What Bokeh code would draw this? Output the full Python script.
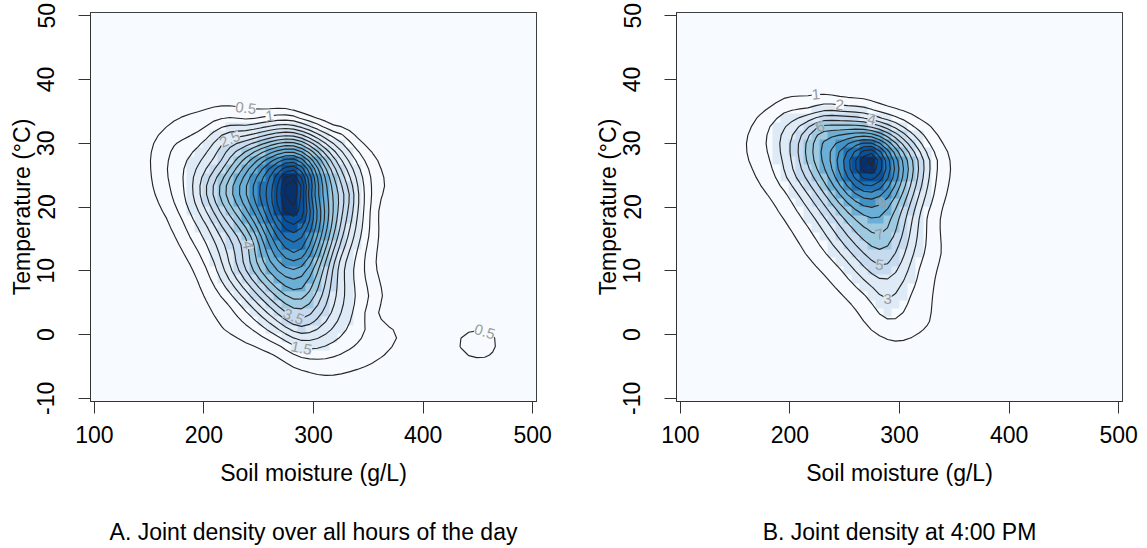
import numpy as np
import contourpy
from bokeh.plotting import figure
from bokeh.layouts import row
from bokeh.models import LinearColorMapper, FixedTicker, Title, ColumnDataSource
from bokeh.palettes import Blues9
from bokeh.embed import file_html
from bokeh.resources import INLINE
from bokeh.core.properties import value

FONT = "Liberation Sans"

# ---------------- data ----------------
X_RANGE = (96.5, 503.5)
Y_RANGE = (-10.5, 50.5)
X_TICKS = [100, 200, 300, 400, 500]
Y_TICKS = [-10, 0, 10, 20, 30, 40, 50]
Y_TICK_TEXT = ["-10", "0", "10", "20", "30", "40", "50"]
X_LABEL = "Soil moisture (g/L)"
Y_LABEL = "Temperature (\u00b0C)"

# ---- Panel A: density (x 1e-4) over all hours of the day ----
A_CAPTION = "A. Joint density over all hours of the day"
# points on the 0.5 contour
A_c05_x = [240, 214, 184.5, 165, 153.5, 152, 155, 165, 178, 191, 207.4, 217, 236.7, 269, 302, 315,
           341, 367, 376.4, 370.5, 357.5, 357, 359, 365.6, 360.8, 341.2, 318.3, 292, 263]
A_c05_y = [35.6, 35.8, 34.5, 32.4, 29.5, 25.4, 22.3, 18.6, 13.9, 9.7, 3.5, 0.9, -1.2, -3.8, -6.2, -6.4,
           -5.4, -2.8, 0.1, 1.1, 3.5, 10.8, 19.1, 23.3, 26.4, 30.6, 32.7, 34.5, 35.4]
# points on the 1 contour
A_c1_x = [258, 240, 197.6, 171.5, 166.5, 171.5, 187.8, 200.8, 223.7, 243.3, 269.4, 298.7, 318.3,
          337.9, 347.7, 351, 351, 352.6, 344.4, 324.9, 292.2]
A_c1_y = [34.2, 33.7, 32.1, 29.5, 25.4, 21.2, 15, 10.8, 4.5, 0.9, -1.7, -3.8, -3.5,
          -1.7, 0.9, 5.6, 16, 23.3, 28, 31.6, 33.7]
# inner points with their density level
A_pt_x = [182, 190, 202, 214, 226, 238.5, 250.7, 262.9, 272, 280,
          341, 333, 328, 313, 297,
          283, 283, 283, 283, 283, 283,
          287, 291, 287, 287, 287, 287,
          210.6, 217, 230, 243, 256, 338, 328, 220.4,
          240, 216, 203, 215, 250,
          438, 450, 462]
A_pt_y = [22.7, 22.7, 22.7, 22.7, 22.7, 22.7, 22.7, 22.7, 22.7, 22.8,
          21.7, 21.7, 21.7, 21.7, 21.7,
          33.5, 32.7, 31.6, 30.6, 28.5, 26.4,
          2.5, -2.2, 1.3, 7, 13, 19,
          10.8, 10.8, 10.8, 10.8, 10.8, 10.8, 10.8, 30.5,
          14.5, 17, 17, 27, 27.5,
          -2, -1.5, -0.5]
A_pt_z = [1.5, 2, 3, 4, 5, 6, 7, 8, 9, 10.3,
          2, 3, 3.5, 5, 7,
          1.5, 2, 3, 4, 6, 8,
          3.5, 1.5, 3, 5, 7, 9,
          1.5, 2, 3, 4, 5, 1.5, 2, 2.5,
          4, 3, 2, 3, 5.5,
          0.62, 0.65, 0.58]
# zero-density points around the mass
A_zero_x = [130, 200, 280, 350, 400, 420, 410, 400, 340, 270, 200, 150, 125, 120,
            422, 478, 448, 448, 490, 470, 430]
A_zero_y = [45, 47, 46, 44, 38, 22, 8, -6, -10, -10, -7, 3, 20, 35,
            -3.5, 1.5, 4, -7, -4, -9, 5]
A_levels = [0.5, 1, 1.5, 2, 2.5, 3, 3.5, 4, 4.5, 5, 5.5, 6, 6.5, 7, 7.5, 8, 8.5, 9, 9.5, 10, 10.5]
A_lab_level = [0.5, 1, 2.5, 4, 3.5, 1.5, 0.5]
A_lab_x = [235, 258, 222, 240, 284, 291, 458]
A_lab_y = [36, 34.5, 30, 14, 2.4, -2.3, 0.5]

# ---- Panel B: density (x 1e-4) at 4:00 PM ----
B_CAPTION = "B. Joint density at 4:00 PM"
B_c1_x = [223, 206.5, 183.4, 167, 160.3, 162, 173.5, 190, 213, 239.5, 266, 282.4, 297.2, 318.6, 327,
          330, 338.4, 340, 346.7, 341.7, 328.5, 305.4, 272.5, 236]
B_c1_y = [37.7, 37.4, 35.8, 33.2, 30.1, 27.5, 23.3, 19.1, 12.9, 7.7, 2.4, -0.2, -1.0, 0.4, 1.7,
          5.6, 12.9, 20.2, 25.4, 29.5, 32.7, 35, 36.8, 37.6]
B_c2_x = [247.7, 219.7, 193.3, 181.8, 178.5, 183.4, 196.6, 219.7, 246, 272.5, 289, 295.5, 308.7,
          318.6, 325.2, 333.5, 328.5, 312, 285.6, 259.3]
B_c2_y = [35.9, 35.5, 34.7, 32.7, 29.5, 26.4, 22.2, 16, 10.3, 5.6, 2.4, 2.4, 5.6,
          10.8, 18.6, 25.4, 29.5, 32.7, 34.7, 35.8]
B_pt_x = [193, 208.6, 221.6, 237, 249, 261, 270.6, 276.5,
          327.8, 316.9, 307.1, 298, 290.4, 282.1,
          285.7, 285.7, 285.8, 283,
          276, 228, 228, 228,
          200, 220, 250]
B_pt_y = [27.4, 27.4, 27.4, 27.4, 27.4, 27.4, 27.4, 27.4,
          27.4, 27.4, 27.4, 27.4, 27.4, 27.4,
          5.6, 10.8, 15.9, 20.5,
          33.6, 35, 33.4, 31.8,
          25, 20, 15]
B_pt_z = [3, 5, 7, 9, 11, 13, 15, 15.6,
          3, 5, 7, 9, 11, 13,
          3, 5, 7, 9,
          4, 3, 5, 7,
          3.5, 3.5, 4.5]
B_zero_x = [130, 140, 220, 300, 370, 375, 365, 320, 260, 205, 160, 125, 420, 420, 300, 230]
B_zero_y = [30, 45, 46, 45, 38, 20, 0, -8, -6, 2, 12, 15, 30, 0, -9, -8]
B_levels = [1, 2, 3, 4, 5, 6, 7, 8, 9, 10, 11, 12, 13, 14, 15, 16]
B_lab_level = [1, 2, 4, 6, 3, 5, 7, 9]
B_lab_x = [223, 248, 276, 231, 285.5, 285.5, 285.5, 283]
B_lab_y = [37.7, 35.8, 33.6, 31.7, 5.4, 10.6, 15.9, 20.5]

# zero density along the frame border and above the mass (both panels)
EDGE_X = [100, 140, 180, 220, 260, 300, 340, 380, 420, 460, 500]
EDGE_Y = [-10, 0, 10, 20, 30, 40, 50]
TOP_X = [120, 160, 200, 240, 280, 320, 360, 400, 440]
TOP_Y = 44

# ---------------- surface through the read points ----------------
FRAME_W, FRAME_H = 446, 389
PX_X = FRAME_W / (X_RANGE[1] - X_RANGE[0])
PX_Y = FRAME_H / (Y_RANGE[1] - Y_RANGE[0])
PALETTE = list(reversed(Blues9))
IMG_GAMMA = 1.15
NX, NY = 56, 46


def smooth_surface(tx, ty, tz):
    tx, ty, tz = map(lambda a: np.asarray(a, float), (tx, ty, tz))
    dx = (X_RANGE[1] - X_RANGE[0]) / NX
    dy = (Y_RANGE[1] - Y_RANGE[0]) / NY
    xc = X_RANGE[0] + (np.arange(NX) + 0.5) * dx
    yc = Y_RANGE[0] + (np.arange(NY) + 0.5) * dy

    def d2(n):
        D = np.zeros((n - 2, n))
        for i in range(n - 2):
            D[i, i:i + 3] = [1.0, -2.0, 1.0]
        return D

    def d1(n):
        D = np.zeros((n - 1, n))
        for i in range(n - 1):
            D[i, i:i + 2] = [-1.0, 1.0]
        return D

    def sel(n):
        return np.eye(n)[1:-1]

    L = np.kron(sel(NY), d2(NX)) + np.kron(d2(NY), sel(NX))
    Gx = np.kron(np.eye(NY), d1(NX))
    Gy = np.kron(d1(NY), np.eye(NX))
    fi = (tx - xc[0]) / dx
    fj = (ty - yc[0]) / dy
    i0 = np.clip(np.floor(fi).astype(int), 0, NX - 2)
    j0 = np.clip(np.floor(fj).astype(int), 0, NY - 2)
    ax = np.clip(fi - i0, 0, 1)
    ay = np.clip(fj - j0, 0, 1)
    P = np.zeros((len(tx), NX * NY))
    r = np.arange(len(tx))
    P[r, j0 * NX + i0] += (1 - ax) * (1 - ay)
    P[r, j0 * NX + i0 + 1] += ax * (1 - ay)
    P[r, (j0 + 1) * NX + i0] += (1 - ax) * ay
    P[r, (j0 + 1) * NX + i0 + 1] += ax * ay
    W, LAM, TAU, EPS = 20.0, 1.0, 0.02, 5e-3
    M = (LAM * (L.T @ L) + TAU * (Gx.T @ Gx + Gy.T @ Gy)
         + W * (P.T @ P) + EPS * np.eye(NX * NY))
    z = np.linalg.solve(M, W * (P.T @ tz))
    return xc, yc, z.reshape(NY, NX)


def panel(pts, levels, labs, caption, left, right, width):
    tx, ty, tz = pts
    xc, yc, Z = smooth_surface(tx, ty, tz)
    Zc = np.clip(Z, 0, None)
    zmax = Zc.max()
    Zi = zmax * (Zc / zmax) ** IMG_GAMMA

    p = figure(width=width, height=548, x_range=X_RANGE, y_range=Y_RANGE,
               output_backend="svg", toolbar_location=None,
               min_border_left=left, min_border_right=right,
               min_border_top=12, min_border_bottom=147)
    p.frame_width = FRAME_W
    p.frame_height = FRAME_H
    mapper = LinearColorMapper(palette=PALETTE, low=0, high=zmax)
    p.image(image=[Zi], x=X_RANGE[0], y=Y_RANGE[0],
            dw=X_RANGE[1] - X_RANGE[0], dh=Y_RANGE[1] - Y_RANGE[0],
            color_mapper=mapper)
    p.contour(xc, yc, Z, levels, line_color="#262626", line_width=1.15)

    gen = contourpy.contour_generator(xc, yc, Z)
    dxi = xc[1] - xc[0]
    dyi = yc[1] - yc[0]
    lx, ly, lt, la, lb = [], [], [], [], []
    for lev, qx, qy in zip(*labs):
        best = None
        for ln in gen.lines(lev):
            d = ((ln[:, 0] - qx) * PX_X) ** 2 + ((ln[:, 1] - qy) * PX_Y) ** 2
            i = int(d.argmin())
            if best is None or d[i] < best[0]:
                best = (d[i], ln, i)
        if best is None:
            continue
        _, ln, i = best
        j0, j1 = max(i - 1, 0), min(i + 1, len(ln) - 1)
        ang = np.arctan2((ln[j1, 1] - ln[j0, 1]) * PX_Y, (ln[j1, 0] - ln[j0, 0]) * PX_X)
        if ang > np.pi / 2:
            ang -= np.pi
        if ang < -np.pi / 2:
            ang += np.pi
        px, py = ln[i]
        ci = min(max(int((px - X_RANGE[0]) / dxi), 0), NX - 1)
        cj = min(max(int((py - Y_RANGE[0]) / dyi), 0), NY - 1)
        k = min(int(Zi[cj, ci] / zmax * len(PALETTE)), len(PALETTE) - 1)
        lx.append(px); ly.append(py); lt.append(f"{lev:g}")
        la.append(float(ang)); lb.append(PALETTE[k])
    src = ColumnDataSource(dict(x=lx, y=ly, text=lt, angle=la, bg=lb))
    p.text(x="x", y="y", text="text", angle="angle", source=src,
           text_font=value(FONT), text_font_size="15px", text_color="#9a9a9a",
           text_align="center", text_baseline="middle", background_fill_color="bg")

    p.grid.visible = False
    p.outline_line_color = "black"
    p.outline_line_width = 1
    p.background_fill_color = "white"
    p.border_fill_color = "white"
    p.xaxis.ticker = FixedTicker(ticks=X_TICKS)
    p.yaxis.ticker = FixedTicker(ticks=Y_TICKS)
    p.yaxis.major_label_overrides = {t: s for t, s in zip(Y_TICKS, Y_TICK_TEXT)}
    p.xaxis.axis_label = X_LABEL
    p.yaxis.axis_label = Y_LABEL
    for ax in (p.xaxis[0], p.yaxis[0]):
        ax.major_tick_out = 12
        ax.major_tick_in = 0
        ax.minor_tick_line_color = None
        ax.major_tick_line_color = "#333333"
        ax.axis_line_color = "#333333"
        ax.major_label_text_font = FONT
        ax.major_label_text_font_size = "23px"
        ax.major_label_text_color = "black"
        ax.axis_label_text_font = FONT
        ax.axis_label_text_font_size = "23px"
        ax.axis_label_text_font_style = "normal"
        ax.axis_label_text_color = "black"
    p.yaxis.major_label_orientation = "vertical"
    p.xaxis.major_label_standoff = 12
    p.xaxis.axis_label_standoff = 14
    p.yaxis.major_label_standoff = 24
    p.yaxis.axis_label_standoff = 0
    p.add_layout(Title(text=caption, align="center", text_font=FONT,
                       text_font_size="23px", text_font_style="normal",
                       text_color="black", standoff=56), "below")
    return p


def gather(cs, pts, zeros):
    xs, ys, zs = [], [], []
    for cx, cy, lev in cs:
        xs += list(cx); ys += list(cy); zs += [lev] * len(cx)
    xs += list(pts[0]); ys += list(pts[1]); zs += list(pts[2])
    zx = (list(zeros[0]) + EDGE_X + EDGE_X + [100] * len(EDGE_Y) + [500] * len(EDGE_Y) + TOP_X)
    zy = (list(zeros[1]) + [50] * len(EDGE_X) + [-10] * len(EDGE_X) + EDGE_Y + EDGE_Y
          + [TOP_Y] * len(TOP_X))
    xs += zx; ys += zy; zs += [0.0] * len(zx)
    return xs, ys, zs


A_pts = gather([(A_c05_x, A_c05_y, 0.5), (A_c1_x, A_c1_y, 1.0)],
               (A_pt_x, A_pt_y, A_pt_z), (A_zero_x, A_zero_y))
B_pts = gather([(B_c1_x, B_c1_y, 1.0), (B_c2_x, B_c2_y, 2.0)],
               (B_pt_x, B_pt_y, B_pt_z), (B_zero_x, B_zero_y))

pa = panel(A_pts, A_levels, (A_lab_level, A_lab_x, A_lab_y), A_CAPTION, 90, 37, 573)
pb = panel(B_pts, B_levels, (B_lab_level, B_lab_x, B_lab_y), B_CAPTION, 103, 25, 574)

layout = row(pa, pb)
open("out.html", "w").write(file_html(layout, INLINE))
